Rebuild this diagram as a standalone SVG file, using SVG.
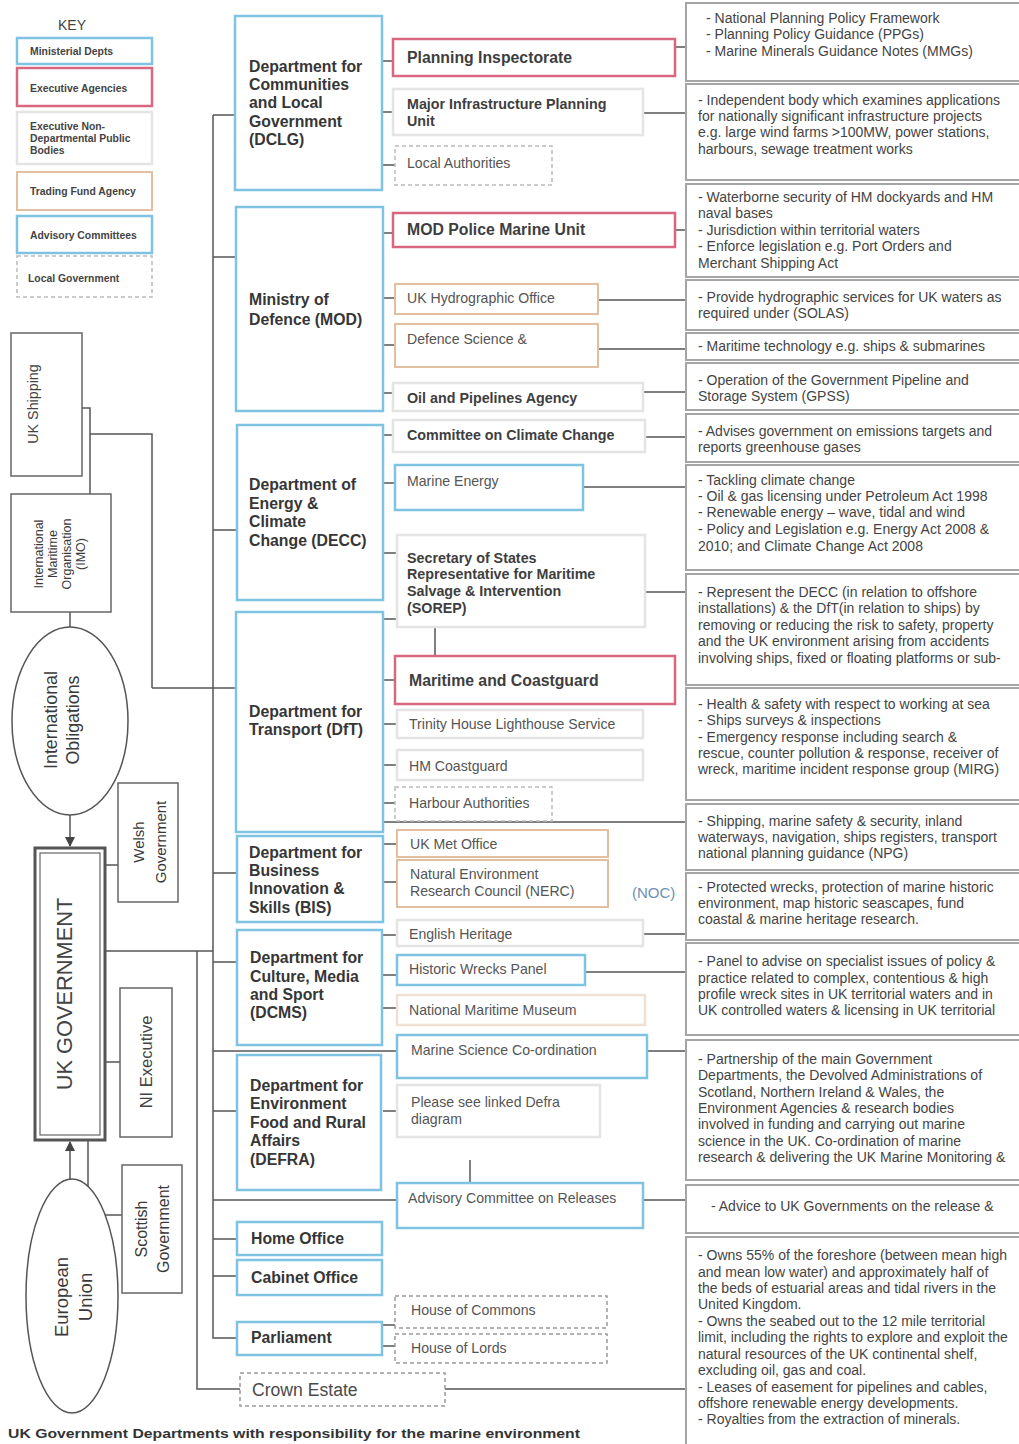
<svg xmlns="http://www.w3.org/2000/svg" width="1019" height="1444" viewBox="0 0 1019 1444">
<style>
text{font-family:"Liberation Sans",Arial,sans-serif;fill:#3a3a3a}
.key{font-size:10.4px;font-weight:bold;fill:#444}
.dept{font-size:15.8px;font-weight:bold;fill:#363636}
.nb{font-size:15.8px;font-weight:bold;fill:#3e3e3e}
.nb2{font-size:14.3px;font-weight:bold;fill:#3e3e3e}
.nn{font-size:14.1px;fill:#555}
.desc{font-size:14px;fill:#444}
.rot{fill:#444}
.blue{fill:#fff;stroke:#7fc3e2;stroke-width:2.5}
.red{fill:#fff;stroke:#d9677f;stroke-width:2.5}
.orange{fill:#fff;stroke:#e2bfa0;stroke-width:2}
.faint{fill:#fff;stroke:#e4e4e4;stroke-width:2.5}
.dash{fill:#fff;stroke:#9a9a9a;stroke-width:1.5;stroke-dasharray:4 3}
.grey{fill:#fff;stroke:#666;stroke-width:1.5}
.dbox{fill:#fff;stroke:#a5a5a5;stroke-width:2}
.ln{fill:none;stroke:#555;stroke-width:1.5}
</style>
<defs>
<marker id="ah" viewBox="0 0 10 10" refX="9" refY="5" markerWidth="7" markerHeight="7" orient="auto-start-reverse">
<path d="M0,0 L10,5 L0,10 z" fill="#444"/>
</marker>
</defs>
<rect width="1019" height="1444" fill="#fff"/>

<!-- KEY -->
<g id="key">
<text x="58" y="30" style="font-size:14px;fill:#444">KEY</text>
<rect class="blue" x="17" y="38" width="135" height="26"/>
<text class="key" x="30" y="55">Ministerial Depts</text>
<rect class="red" x="17" y="68" width="135" height="38"/>
<text class="key" x="30" y="92">Executive Agencies</text>
<rect class="faint" x="17" y="112" width="135" height="52"/>
<text class="key" x="30" y="130">Executive Non-</text>
<text class="key" x="30" y="142">Departmental  Public</text>
<text class="key" x="30" y="154">Bodies</text>
<rect class="orange" x="17" y="172" width="135" height="38"/>
<text class="key" x="30" y="195">Trading Fund Agency</text>
<rect class="blue" x="17" y="216" width="135" height="37"/>
<text class="key" x="30" y="239">Advisory Committees</text>
<rect class="dash" x="17" y="256" width="135" height="41" style="stroke:#bbb"/>
<text class="key" x="28" y="282">Local Government</text>
</g>

<!-- connectors -->
<g id="connectors">
<path class="ln" d="M213,115 V1338 H237"/>
<path class="ln" d="M213,115 H235"/>
<path class="ln" d="M213,257 H236"/>
<path class="ln" d="M213,530 H237"/>
<path class="ln" d="M152,688 H236"/>
<path class="ln" d="M213,873 H237"/>
<path class="ln" d="M105,951 H213"/>
<path class="ln" d="M213,962 H237"/>
<path class="ln" d="M213,1051 H397"/>
<path class="ln" d="M213,1111 H237"/>
<path class="ln" d="M213,1200 H397"/>
<path class="ln" d="M213,1239 H237"/>
<path class="ln" d="M213,1276 H237"/>
<path class="ln" d="M197,951 V1389 H240"/>
<path class="ln" d="M445,1389 H686"/>
<!-- left column -->
<path class="ln" d="M82,408 H90 V494"/>
<path class="ln" d="M90,434 H152 V688"/>
<path class="ln" d="M70,612 V627"/>
<path class="ln" d="M70,815 V846" marker-end="url(#ah)"/>
<path class="ln" d="M70,1180 V1142" marker-end="url(#ah)"/>
<path class="ln" d="M105,865 H118"/>
<path class="ln" d="M105,1062 H120"/>
<path class="ln" d="M88,1140 V1215 H122"/>
<!-- dept to node -->
<path class="ln" d="M382,61 H393"/>
<path class="ln" d="M382,112 H393"/>
<path class="ln" d="M382,165 H395"/>
<path class="ln" d="M383,233 H393"/>
<path class="ln" d="M383,298 H395"/>
<path class="ln" d="M383,345 H395"/>
<path class="ln" d="M383,393 H393"/>
<path class="ln" d="M383,435 H393"/>
<path class="ln" d="M383,483 H395"/>
<path class="ln" d="M383,553 H397"/>
<path class="ln" d="M383,619 H397"/>
<path class="ln" d="M435,627 V656"/>
<path class="ln" d="M383,680 H395"/>
<path class="ln" d="M383,724 H397"/>
<path class="ln" d="M383,765 H397"/>
<path class="ln" d="M383,803 H395"/>
<path class="ln" d="M383,822 H686"/>
<path class="ln" d="M383,844 H397"/>
<path class="ln" d="M383,882 H397"/>
<path class="ln" d="M383,935 H397"/>
<path class="ln" d="M383,975 H397"/>
<path class="ln" d="M383,1008 H397"/>
<path class="ln" d="M383,1111 H397"/>
<path class="ln" d="M470,1160 V1183"/>
<path class="ln" d="M382,1325 H395"/>
<path class="ln" d="M382,1346 H395"/>
<!-- node to description -->
<path class="ln" d="M675,47 H686"/>
<path class="ln" d="M643,113 H686"/>
<path class="ln" d="M675,230 H686"/>
<path class="ln" d="M598,300 H686"/>
<path class="ln" d="M598,349 H686"/>
<path class="ln" d="M643,392 H686"/>
<path class="ln" d="M645,437 H686"/>
<path class="ln" d="M583,487 H686"/>
<path class="ln" d="M645,592 H686"/>
<path class="ln" d="M643,934 H686"/>
<path class="ln" d="M585,972 H686"/>
<path class="ln" d="M647,1051 H686"/>
<path class="ln" d="M643,1200 H686"/>
</g>

<!-- left column nodes -->
<g id="uk-shipping">
<rect class="grey" x="11" y="333" width="71" height="143"/>
<text class="rot" transform="translate(38,404) rotate(-90)" text-anchor="middle" style="font-size:14.3px">UK Shipping</text>
</g>
<g id="imo">
<rect class="grey" x="11" y="494" width="100" height="118"/>
<g class="rot" text-anchor="middle" style="font-size:12.5px">
<text transform="translate(43,554) rotate(-90)">International</text>
<text transform="translate(57,554) rotate(-90)">Maritime</text>
<text transform="translate(71,554) rotate(-90)">Organisation</text>
<text transform="translate(85,554) rotate(-90)">(IMO)</text>
</g>
</g>
<g id="international-obligations">
<ellipse cx="70" cy="721" rx="58" ry="94" fill="#fff" stroke="#555" stroke-width="1.5"/>
<g class="rot" text-anchor="middle" style="font-size:17.8px">
<text transform="translate(57,720) rotate(-90)">International</text>
<text transform="translate(79,720) rotate(-90)">Obligations</text>
</g>
</g>
<g id="uk-government">
<rect x="35" y="848" width="70" height="292" fill="#fff" stroke="#555" stroke-width="3"/>
<rect x="40" y="853" width="60" height="282" fill="none" stroke="#666" stroke-width="1.2"/>
<text class="rot" transform="translate(72,994) rotate(-90)" text-anchor="middle" style="font-size:21.8px">UK GOVERNMENT</text>
</g>
<g id="welsh-government">
<rect class="grey" x="118" y="783" width="60" height="119"/>
<g class="rot" text-anchor="middle" style="font-size:15px">
<text transform="translate(144,842) rotate(-90)">Welsh</text>
<text transform="translate(166,842) rotate(-90)">Government</text>
</g>
</g>
<g id="ni-executive">
<rect class="grey" x="120" y="988" width="52" height="149"/>
<text class="rot" transform="translate(152,1062) rotate(-90)" text-anchor="middle" style="font-size:16.5px">NI Executive</text>
</g>
<g id="scottish-government">
<rect class="grey" x="122" y="1165" width="60" height="128"/>
<g class="rot" text-anchor="middle" style="font-size:16px">
<text transform="translate(147,1229) rotate(-90)">Scottish</text>
<text transform="translate(169,1229) rotate(-90)">Government</text>
</g>
</g>
<g id="european-union">
<ellipse cx="72" cy="1296" rx="46" ry="117" fill="#fff" stroke="#555" stroke-width="1.5"/>
<g class="rot" text-anchor="middle" style="font-size:18.5px">
<text transform="translate(68,1297) rotate(-90)">European</text>
<text transform="translate(92,1297) rotate(-90)">Union</text>
</g>
</g>

<!-- departments -->
<g id="dclg">
<rect class="blue" x="235" y="16" width="147" height="174"/>
<text class="dept" x="249" y="72">Department for</text>
<text class="dept" x="249" y="90">Communities</text>
<text class="dept" x="249" y="108">and Local</text>
<text class="dept" x="249" y="127">Government</text>
<text class="dept" x="249" y="145">(DCLG)</text>
</g>
<g id="mod">
<rect class="blue" x="236" y="207" width="147" height="204"/>
<text class="dept" x="249" y="305">Ministry of</text>
<text class="dept" x="249" y="325">Defence (MOD)</text>
</g>
<g id="decc">
<rect class="blue" x="237" y="425" width="146" height="175"/>
<text class="dept" x="249" y="490">Department of</text>
<text class="dept" x="249" y="509">Energy &amp;</text>
<text class="dept" x="249" y="527">Climate</text>
<text class="dept" x="249" y="546">Change (DECC)</text>
</g>
<g id="dft">
<rect class="blue" x="236" y="612" width="147" height="220"/>
<text class="dept" x="249" y="717">Department for</text>
<text class="dept" x="249" y="735">Transport (DfT)</text>
</g>
<g id="bis">
<rect class="blue" x="237" y="836" width="146" height="86"/>
<text class="dept" x="249" y="858">Department for</text>
<text class="dept" x="249" y="876">Business</text>
<text class="dept" x="249" y="894">Innovation &amp;</text>
<text class="dept" x="249" y="913">Skills (BIS)</text>
</g>
<g id="dcms">
<rect class="blue" x="237" y="930" width="145" height="115"/>
<text class="dept" x="250" y="963">Department for</text>
<text class="dept" x="250" y="982">Culture, Media</text>
<text class="dept" x="250" y="1000">and Sport</text>
<text class="dept" x="250" y="1018">(DCMS)</text>
</g>
<g id="defra">
<rect class="blue" x="237" y="1055" width="144" height="135"/>
<text class="dept" x="250" y="1091">Department for</text>
<text class="dept" x="250" y="1109">Environment</text>
<text class="dept" x="250" y="1128">Food and Rural</text>
<text class="dept" x="250" y="1146">Affairs</text>
<text class="dept" x="250" y="1165">(DEFRA)</text>
</g>
<g id="home-office">
<rect class="blue" x="237" y="1222" width="145" height="33"/>
<text class="dept" x="251" y="1244">Home Office</text>
</g>
<g id="cabinet-office">
<rect class="blue" x="237" y="1260" width="145" height="35"/>
<text class="dept" x="251" y="1283">Cabinet Office</text>
</g>
<g id="parliament">
<rect class="blue" x="237" y="1322" width="145" height="33"/>
<text class="dept" x="251" y="1343">Parliament</text>
</g>
<g id="crown-estate">
<rect class="dash" x="240" y="1373" width="205" height="33"/>
<text x="252" y="1396" style="font-size:17.6px;fill:#4a4a4a">Crown Estate</text>
</g>

<!-- agencies / bodies -->
<g id="planning-inspectorate">
<rect class="red" x="393" y="39" width="282" height="37"/>
<text class="nb" x="407" y="63">Planning Inspectorate</text>
</g>
<g id="mipu">
<rect class="faint" x="393" y="89" width="250" height="46"/>
<text class="nb2" x="407" y="109">Major Infrastructure Planning</text>
<text class="nb2" x="407" y="126">Unit</text>
</g>
<g id="local-authorities">
<rect class="dash" x="395" y="146" width="157" height="39" style="stroke:#bbb"/>
<text class="nn" x="407" y="168">Local Authorities</text>
</g>
<g id="mod-police">
<rect class="red" x="393" y="213" width="282" height="34"/>
<text class="nb" x="407" y="235">MOD Police Marine Unit</text>
</g>
<g id="ukho">
<rect class="orange" x="395" y="284" width="203" height="30"/>
<text class="nn" x="407" y="303">UK Hydrographic Office</text>
</g>
<g id="defence-science">
<rect class="orange" x="395" y="324" width="203" height="43"/>
<text class="nn" x="407" y="344">Defence Science &amp;</text>
</g>
<g id="oil-pipelines">
<rect class="faint" x="393" y="383" width="250" height="28"/>
<text class="nb2" x="407" y="403">Oil and Pipelines Agency</text>
</g>
<g id="ccc">
<rect class="faint" x="393" y="420" width="252" height="32"/>
<text class="nb2" x="407" y="440">Committee on Climate Change</text>
</g>
<g id="marine-energy">
<rect class="blue" x="395" y="465" width="188" height="45"/>
<text class="nn" x="407" y="486">Marine Energy</text>
</g>
<g id="sorep">
<rect class="faint" x="397" y="535" width="248" height="92"/>
<text class="nb2" x="407" y="563">Secretary of States</text>
<text class="nb2" x="407" y="579">Representative for Maritime</text>
<text class="nb2" x="407" y="596">Salvage &amp; Intervention</text>
<text class="nb2" x="407" y="613">(SOREP)</text>
</g>
<g id="mca">
<rect class="red" x="395" y="656" width="280" height="48"/>
<text class="nb" x="409" y="686">Maritime and Coastguard</text>
</g>
<g id="trinity-house">
<rect class="faint" x="397" y="710" width="246" height="28"/>
<text class="nn" x="409" y="729">Trinity House Lighthouse Service</text>
</g>
<g id="hm-coastguard">
<rect class="faint" x="397" y="750" width="246" height="30"/>
<text class="nn" x="409" y="771">HM Coastguard</text>
</g>
<g id="harbour-authorities">
<rect class="dash" x="395" y="787" width="157" height="34" style="stroke:#bbb"/>
<text class="nn" x="409" y="808">Harbour Authorities</text>
</g>
<g id="met-office">
<rect class="orange" x="397" y="830" width="211" height="27"/>
<text class="nn" x="410" y="849">UK Met Office</text>
</g>
<g id="nerc">
<rect class="orange" x="397" y="860" width="211" height="47"/>
<text class="nn" x="410" y="879">Natural Environment</text>
<text class="nn" x="410" y="896">Research Council (NERC)</text>
</g>
<g id="noc">
<text x="632" y="898" style="font-size:15px;fill:#6d8fb3">(NOC)</text>
</g>
<g id="english-heritage">
<rect class="faint" x="397" y="920" width="246" height="26"/>
<text class="nn" x="409" y="939">English Heritage</text>
</g>
<g id="historic-wrecks">
<rect class="blue" x="397" y="955" width="188" height="30"/>
<text class="nn" x="409" y="974">Historic Wrecks Panel</text>
</g>
<g id="nmm">
<rect class="faint" x="397" y="995" width="248" height="30" style="stroke:#eee0d2"/>
<text class="nn" x="409" y="1015">National Maritime Museum</text>
</g>
<g id="marine-science">
<rect class="blue" x="397" y="1035" width="250" height="43"/>
<text class="nn" x="411" y="1055">Marine Science Co-ordination</text>
</g>
<g id="defra-link">
<rect class="faint" x="397" y="1085" width="203" height="52"/>
<text class="nn" x="411" y="1107">Please see linked Defra</text>
<text class="nn" x="411" y="1124">diagram</text>
</g>
<g id="acre">
<rect class="blue" x="397" y="1183" width="246" height="45"/>
<text class="nn" x="408" y="1203">Advisory Committee on Releases</text>
</g>
<g id="house-of-commons">
<rect class="dash" x="395" y="1296" width="212" height="32"/>
<text class="nn" x="411" y="1315">House of Commons</text>
</g>
<g id="house-of-lords">
<rect class="dash" x="395" y="1334" width="212" height="29"/>
<text class="nn" x="411" y="1353">House of Lords</text>
</g>

<!-- descriptions -->
<g id="desc-planning">
<rect class="dbox" x="686" y="3" width="340" height="78"/>
<text class="desc" x="706" y="23">- National Planning Policy Framework</text>
<text class="desc" x="706" y="39">- Planning Policy Guidance (PPGs)</text>
<text class="desc" x="706" y="56">- Marine Minerals Guidance Notes (MMGs)</text>
</g>
<g id="desc-mipu">
<rect class="dbox" x="686" y="84" width="340" height="96"/>
<text class="desc" x="698" y="105">- Independent body which examines applications</text>
<text class="desc" x="698" y="121">for nationally significant infrastructure projects</text>
<text class="desc" x="698" y="137">e.g. large wind farms &gt;100MW, power stations,</text>
<text class="desc" x="698" y="154">harbours, sewage treatment works</text>
</g>
<g id="desc-mod-police">
<rect class="dbox" x="686" y="184" width="340" height="93"/>
<text class="desc" x="698" y="202">- Waterborne security of HM dockyards and HM</text>
<text class="desc" x="698" y="218">naval bases</text>
<text class="desc" x="698" y="235">- Jurisdiction within territorial waters</text>
<text class="desc" x="698" y="251">- Enforce legislation e.g. Port Orders and</text>
<text class="desc" x="698" y="268">Merchant Shipping Act</text>
</g>
<g id="desc-ukho">
<rect class="dbox" x="686" y="280" width="340" height="50"/>
<text class="desc" x="698" y="302">- Provide hydrographic services for UK waters as</text>
<text class="desc" x="698" y="318">required under (SOLAS)</text>
</g>
<g id="desc-dstl">
<rect class="dbox" x="686" y="333" width="340" height="27"/>
<text class="desc" x="698" y="351">- Maritime technology e.g. ships &amp; submarines</text>
</g>
<g id="desc-opa">
<rect class="dbox" x="686" y="363" width="340" height="47"/>
<text class="desc" x="698" y="385">- Operation of the Government Pipeline and</text>
<text class="desc" x="698" y="401">Storage System (GPSS)</text>
</g>
<g id="desc-ccc">
<rect class="dbox" x="686" y="414" width="340" height="48"/>
<text class="desc" x="698" y="436">- Advises government on emissions targets and</text>
<text class="desc" x="698" y="452">reports greenhouse gases</text>
</g>
<g id="desc-decc">
<rect class="dbox" x="686" y="465" width="340" height="105"/>
<text class="desc" x="698" y="485">- Tackling climate change</text>
<text class="desc" x="698" y="501">- Oil &amp; gas licensing under Petroleum Act 1998</text>
<text class="desc" x="698" y="517">- Renewable energy – wave, tidal and wind</text>
<text class="desc" x="698" y="534">- Policy and Legislation e.g. Energy Act 2008 &amp;</text>
<text class="desc" x="698" y="551">2010; and Climate Change Act 2008</text>
</g>
<g id="desc-sorep">
<rect class="dbox" x="686" y="574" width="340" height="111"/>
<text class="desc" x="698" y="597">- Represent the DECC (in relation to offshore</text>
<text class="desc" x="698" y="613">installations) &amp; the DfT(in relation to ships) by</text>
<text class="desc" x="698" y="630">removing or reducing the risk to safety, property</text>
<text class="desc" x="698" y="646">and the UK environment arising from accidents</text>
<text class="desc" x="698" y="663">involving ships, fixed or floating platforms or sub-</text>
</g>
<g id="desc-mca">
<rect class="dbox" x="686" y="688" width="340" height="112"/>
<text class="desc" x="698" y="709">- Health &amp; safety with respect to working at sea</text>
<text class="desc" x="698" y="725">- Ships surveys &amp; inspections</text>
<text class="desc" x="698" y="742">- Emergency response including search &amp;</text>
<text class="desc" x="698" y="758">rescue, counter pollution &amp; response, receiver of</text>
<text class="desc" x="698" y="774">wreck, maritime incident response group (MIRG)</text>
</g>
<g id="desc-dft">
<rect class="dbox" x="686" y="804" width="340" height="66"/>
<text class="desc" x="698" y="826">- Shipping, marine safety &amp; security, inland</text>
<text class="desc" x="698" y="842">waterways, navigation, ships registers, transport</text>
<text class="desc" x="698" y="858">national planning guidance (NPG)</text>
</g>
<g id="desc-eh">
<rect class="dbox" x="686" y="873" width="340" height="67"/>
<text class="desc" x="698" y="892">- Protected wrecks, protection of marine historic</text>
<text class="desc" x="698" y="908">environment, map historic seascapes, fund</text>
<text class="desc" x="698" y="924">coastal &amp; marine heritage research.</text>
</g>
<g id="desc-hwp">
<rect class="dbox" x="686" y="943" width="340" height="92"/>
<text class="desc" x="698" y="966">- Panel to advise on specialist issues of policy &amp;</text>
<text class="desc" x="698" y="983">practice related to complex, contentious &amp; high</text>
<text class="desc" x="698" y="999">profile wreck sites in UK territorial waters and in</text>
<text class="desc" x="698" y="1015">UK controlled waters &amp; licensing in UK territorial</text>
</g>
<g id="desc-msc">
<rect class="dbox" x="686" y="1040" width="340" height="140"/>
<text class="desc" x="698" y="1064">- Partnership of the main Government</text>
<text class="desc" x="698" y="1080">Departments, the Devolved Administrations of</text>
<text class="desc" x="698" y="1097">Scotland, Northern Ireland &amp; Wales, the</text>
<text class="desc" x="698" y="1113">Environment Agencies &amp; research bodies</text>
<text class="desc" x="698" y="1129">involved in funding and carrying out marine</text>
<text class="desc" x="698" y="1146">science in the UK.  Co-ordination of marine</text>
<text class="desc" x="698" y="1162">research &amp; delivering the UK Marine Monitoring &amp;</text>
</g>
<g id="desc-acre">
<rect class="dbox" x="686" y="1185" width="340" height="48"/>
<text class="desc" x="711" y="1211">- Advice to UK Governments on the release &amp;</text>
</g>
<g id="desc-crown">
<rect class="dbox" x="686" y="1237" width="340" height="210"/>
<text class="desc" x="698" y="1260">- Owns 55% of the foreshore (between mean high</text>
<text class="desc" x="698" y="1277">and mean low water) and approximately half of</text>
<text class="desc" x="698" y="1293">the beds of estuarial areas and tidal rivers in the</text>
<text class="desc" x="698" y="1309">United Kingdom.</text>
<text class="desc" x="698" y="1326">- Owns the seabed out to the 12 mile territorial</text>
<text class="desc" x="698" y="1342">limit, including the rights to explore and exploit the</text>
<text class="desc" x="698" y="1359">natural resources of the UK continental shelf,</text>
<text class="desc" x="698" y="1375">excluding oil, gas and coal.</text>
<text class="desc" x="698" y="1392">- Leases of easement for pipelines and cables,</text>
<text class="desc" x="698" y="1408">offshore renewable energy developments.</text>
<text class="desc" x="698" y="1424">- Royalties from the extraction of minerals.</text>
</g>

<text x="8" y="1438" style="font-size:13.5px;font-weight:bold;fill:#333" textLength="572" lengthAdjust="spacingAndGlyphs">UK Government Departments with responsibility for the marine environment</text>
</svg>
